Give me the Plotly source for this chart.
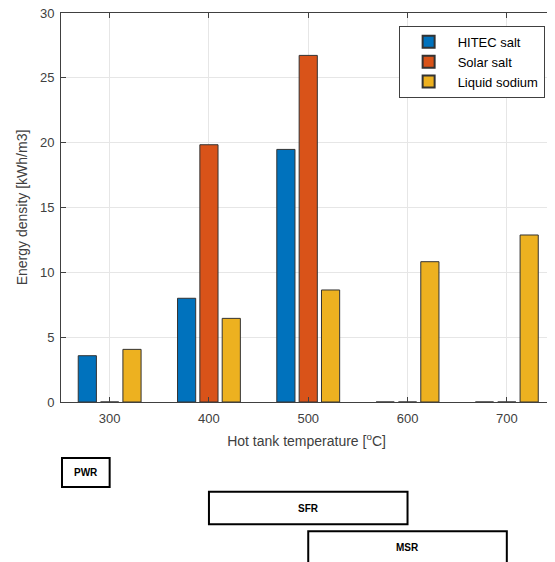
import plotly.graph_objects as go

temps = [300, 400, 500, 600, 700]
hitec = [3.57, 8.0, 19.48, 0, 0]
solar = [0, 19.84, 26.73, 0, 0]
sodium = [4.06, 6.45, 8.64, 10.82, 12.88]
series_names = ["HITEC salt", "Solar salt", "Liquid sodium"]
colors = ["#0072BD", "#D95319", "#EDB120"]
x_ticks = [300, 400, 500, 600, 700]
y_ticks = [0, 5, 10, 15, 20, 25, 30]

reactors = ["PWR", "SFR", "MSR"]
reactor_lo = [252, 400, 500]
reactor_hi = [300, 600, 700]

fig = go.Figure()
bar_w = 18.3
offsets = [-22.5 - bar_w / 2, -bar_w / 2, 22.5 - bar_w / 2]
for name, vals, col, off in zip(series_names, [hitec, solar, sodium], colors, offsets):
    fig.add_trace(go.Bar(
        x=temps, y=vals, name=name, width=bar_w, offset=off,
        marker=dict(color=col, line=dict(color="#333333", width=1)),
    ))

# reactor boxes below the axes (paper y coordinates)
box_y = [(-0.144, -0.2185), (-0.231, -0.314), (-0.332, -0.42)]
label_y = [-0.181, -0.2725, -0.373]
for r, lo, hi, (y0, y1), ly in zip(reactors, reactor_lo, reactor_hi, box_y, label_y):
    fig.add_shape(type="rect", xref="x", yref="paper", x0=lo, x1=hi, y0=y0, y1=y1,
                  line=dict(color="black", width=2), fillcolor="white", layer="above")
    fig.add_annotation(x=(lo + hi) / 2, y=ly, xref="x", yref="paper",
                       xanchor="center", yanchor="middle",
                       text="<b>%s</b>" % r, showarrow=False,
                       font=dict(family="Liberation Sans Narrow, Liberation Sans, Arial", size=10, color="black"))

axis_common = dict(
    showline=True, linecolor="#404040", linewidth=1, mirror="ticks",
    ticks="inside", ticklen=5, tickcolor="#404040",
    showgrid=True, gridcolor="#e6e6e6", gridwidth=1, zeroline=False,
    automargin=False, ticklabeloverflow="allow",
    tickfont=dict(family="Liberation Sans, Arial", size=13, color="#404040"),
)
fig.update_xaxes(range=[251, 745.5], tickvals=x_ticks, ticktext=[str(t) for t in x_ticks],
                 ticklabelstandoff=4,
                 title=dict(text="Hot tank temperature [<sup>o</sup>C]", standoff=11,
                            font=dict(family="Liberation Sans, Arial", size=14, color="#404040")),
                 **axis_common)
fig.update_yaxes(range=[0, 30], tickvals=y_ticks, ticklabelstandoff=3,
                 title=dict(text="Energy density [kWh/m3]", standoff=9,
                            font=dict(family="Liberation Sans, Arial", size=14, color="#404040")),
                 **axis_common)

# page body adds an 8px margin, so the figure is sized to fit the window
fig.update_layout(
    width=547, height=554,
    margin=dict(l=53, r=3, t=5, b=160, autoexpand=False),
    plot_bgcolor="white", paper_bgcolor="white",
    barmode="overlay",
    showlegend=True,
    legend=dict(x=0.985, y=0.967, xanchor="right", yanchor="top",
                bgcolor="white", bordercolor="#404040", borderwidth=1,
                font=dict(family="Liberation Sans, Arial", size=13, color="black"),
                tracegroupgap=0, itemsizing="constant", itemwidth=48),
)

fig.write_html("out.html")
